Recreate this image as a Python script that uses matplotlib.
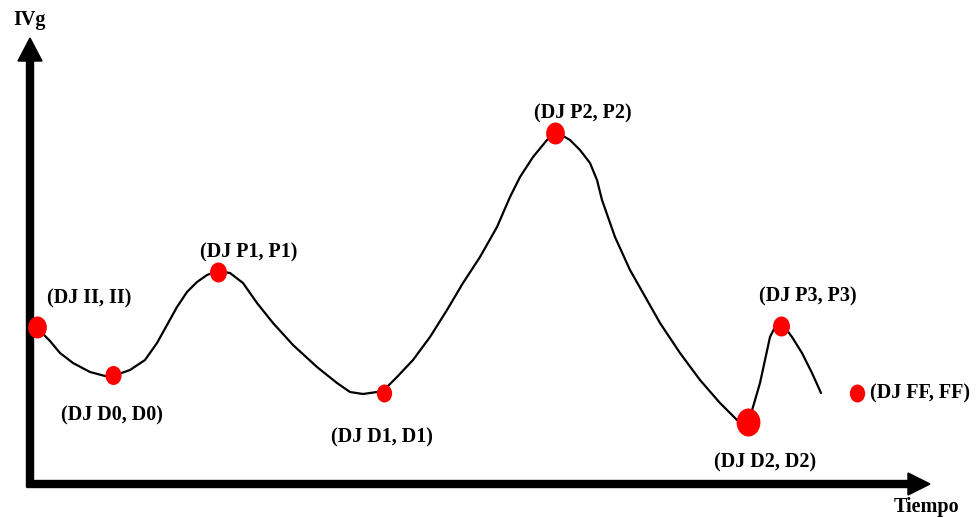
import matplotlib
matplotlib.use("Agg")
import matplotlib.pyplot as plt
from matplotlib.path import Path
import numpy as np

# Curve (t = time, ivg = index), origin at the axes corner
curve_t = [7, 20, 30, 43, 60, 75, 83, 100, 115, 127, 137, 147, 157, 167, 177, 188,
           200, 213, 227, 243, 263, 287, 307, 320, 333, 347, 354, 367, 383, 400, 417,
           433, 450, 467, 480, 490, 503, 517, 526, 540, 550, 560, 567, 572, 585, 600,
           617, 630, 650, 670, 690, 707, 718, 723, 730, 735, 740, 745, 751, 762, 772,
           782, 791]
curve_ivg = [155, 142, 130, 120, 111, 107, 107, 113, 123, 140, 158, 176, 191, 201, 208, 212,
             210, 200, 180, 160, 138, 116, 100, 91, 89, 91, 93, 106, 123, 146, 173,
             200, 226, 256, 286, 306, 326, 343, 351, 343, 333, 320, 303, 283, 246, 213,
             183, 160, 130, 103, 80, 63, 59, 76, 100, 123, 146, 156, 161, 146, 130,
             110, 90]

# Marked points
point_labels = ["(DJ II, II)", "(DJ D0, D0)", "(DJ P1, P1)", "(DJ D1, D1)",
                "(DJ P2, P2)", "(DJ D2, D2)", "(DJ P3, P3)", "(DJ FF, FF)"]
point_t = [7, 83, 188, 354, 525, 718, 751, 827]
point_ivg = [156, 108, 211, 90, 350, 61, 157, 90]

# styling / layout (pixels)
dot_px = [22, 19, 20, 18, 22, 28, 20, 18]
label_off = [(52, 29, "center"), (-1, -40, "center"), (31, 20, "center"),
             (-2, -44, "center"), (28, 20, "center"), (17, -40, "center"),
             (27, 30, "center"), (13, 0, "left")]

W, H = 978, 518
fig = plt.figure(figsize=(W / 100, H / 100), dpi=100)
ax = fig.add_axes([0, 0, 1, 1])
# one data unit == one pixel, origin at the corner of the axes drawing
ax.set_xlim(-30, W - 30)
ax.set_ylim(-(H - 483), 483)
ax.set_axis_off()

font = dict(family=["Liberation Serif", "DejaVu Serif"], fontweight="bold", fontsize=14.5)

# axes arrows
ax.arrow(0, -4, 0, 445 + 4, width=7, head_width=24, head_length=23,
         length_includes_head=True, color="black", zorder=2)
ax.arrow(-3, -1, 903, 0, width=7, head_width=22, head_length=22,
         length_includes_head=True, color="black", zorder=2)
ax.text(0, 463, "IVg", ha="center", va="center", **font)
ax.text(896, -24, "Tiempo", ha="center", va="center", **font)

# curve
ax.plot(curve_t, curve_ivg, color="black", lw=1.6, solid_joinstyle="round",
        solid_capstyle="round", zorder=3)

# slightly tall ellipse marker
circ = Path.unit_circle()
ell = Path(circ.vertices * np.array([0.85, 1.0]), circ.codes)

for t, v, lab, s, (dx, dy, ha) in zip(point_t, point_ivg, point_labels, dot_px, label_off):
    ax.plot([t], [v], marker=ell, markersize=s * 0.72, color="#ff0000",
            markeredgewidth=0, linestyle="none", zorder=4)
    ax.annotate(lab, (t, v), xytext=(dx, dy), textcoords="offset pixels",
                ha=ha, va="center", **font)

fig.savefig("out.png", dpi=100)
